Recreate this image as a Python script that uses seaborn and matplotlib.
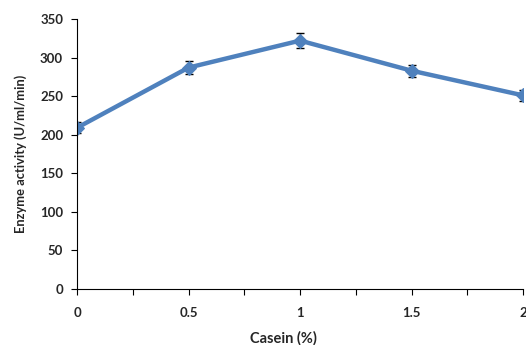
import numpy as np
import pandas as pd
import matplotlib
matplotlib.use("Agg")
import matplotlib.pyplot as plt
import seaborn as sns

# values
casein = [0, 0.5, 1, 1.5, 2]
activity = [209, 287, 322, 283, 251]
errors = [7, 8, 10, 8, 7]

df = pd.DataFrame({"casein": casein, "activity": activity})

sns.set_style("white")
plt.rcParams['font.family'] = ['Lato', 'DejaVu Sans']

fig = plt.figure(figsize=(5.26, 3.45), dpi=100)
ax = fig.add_axes([0.1464, 0.1623, 0.848, 0.7826])

blue = '#4F81BD'
ax.errorbar(casein, activity, yerr=errors, fmt='none', ecolor='black',
            elinewidth=1, capsize=3, capthick=1, zorder=1)
sns.lineplot(data=df, x='casein', y='activity', ax=ax, color=blue,
             linewidth=3.2, marker='D', markersize=7.5, markeredgecolor=blue,
             zorder=2)

ax.set_xlim(0, 2)
ax.set_ylim(0, 350)
ax.set_xticks([0, 0.5, 1, 1.5, 2])
ax.set_xticklabels(['0', '0.5', '1', '1.5', '2'])
ax.set_xticks(np.arange(0, 2.01, 0.25), minor=True)
ax.set_yticks(range(0, 351, 50))

for s in ['top', 'right']:
    ax.spines[s].set_visible(False)
for s in ['left', 'bottom']:
    ax.spines[s].set_color('black')
    ax.spines[s].set_linewidth(0.8)

ax.tick_params(axis='both', which='both', direction='out', length=4,
               color='black', width=0.8, bottom=True, left=True)
ax.tick_params(axis='x', labelsize=9.5, pad=9)
ax.tick_params(axis='y', labelsize=9.5, pad=6)
for lbl in ax.get_xticklabels() + ax.get_yticklabels():
    lbl.set_fontweight('bold')

ax.set_xlabel('Casein (%)', fontsize=10.5, fontweight='bold')
ax.xaxis.set_label_coords(0.463, -0.155)
ax.set_ylabel('Enzyme activity (U/ml/min)', fontsize=9.3, fontweight='bold', labelpad=9)

fig.savefig('out.png', dpi=100)
